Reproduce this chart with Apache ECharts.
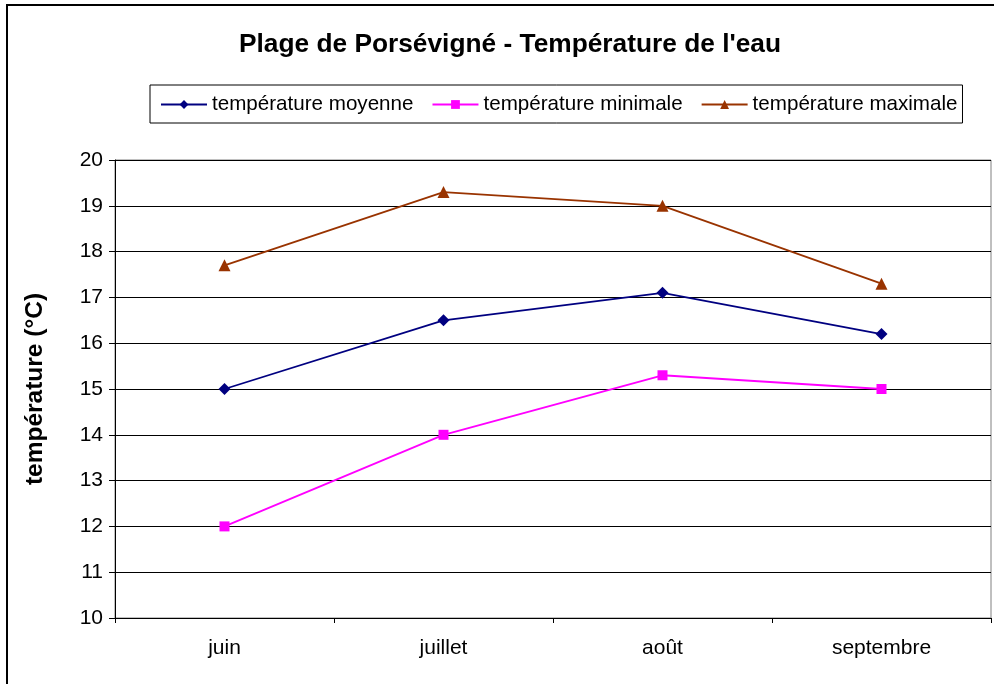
<!DOCTYPE html>
<html>
<head>
<meta charset="utf-8">
<script src="https://cdn.jsdelivr.net/npm/echarts@6/dist/echarts.min.js"></script>
<style>html,body{margin:0;padding:0;background:#fff}#c{width:994px;height:684px}</style>
</head>
<body>
<div id="c"></div>
<script>
var categories = ['juin', 'juillet', 'août', 'septembre'];
var tempMoyenne = [15.0, 16.5, 17.1, 16.2];
var tempMinimale = [12.0, 14.0, 15.3, 15.0];
var tempMaximale = [17.7, 19.3, 19.0, 17.3];
var yTicks = [10, 11, 12, 13, 14, 15, 16, 17, 18, 19, 20];

var font = 'Arial, "Liberation Sans", sans-serif';
var chart = echarts.init(document.getElementById('c'));
chart.setOption({
  animation: false,
  backgroundColor: '#fff',
  textStyle: { fontFamily: font },
  title: {
    text: 'Plage de Porsévigné - Température de l\'eau',
    left: 505, top: 27, textAlign: 'center',
    textStyle: { fontFamily: font, fontSize: 26.3, fontWeight: 'bold', color: '#000' }
  },
  graphic: [{
    type: 'rect', shape: { x: 7, y: 5, width: 1000, height: 700 },
    style: { fill: 'none', stroke: '#000', lineWidth: 2 }, silent: true, z: 100
  }],
  legend: {
    left: 150, top: 85,
    padding: [9, 5, 8, 10],
    borderColor: '#000', borderWidth: 1,
    itemWidth: 46, itemHeight: 11, itemGap: 18,
    textStyle: { fontFamily: font, fontSize: 20.6, color: '#000' },
    data: ['température moyenne', 'température minimale', 'température maximale']
  },
  grid: { left: 115, right: 3, top: 160, bottom: 66, show: true, borderColor: '#808080', borderWidth: 1 },
  xAxis: {
    type: 'category', data: categories, boundaryGap: true,
    axisLine: { lineStyle: { color: '#000', width: 1 } },
    axisTick: { show: true, length: 5, lineStyle: { color: '#000' } },
    axisLabel: { fontFamily: font, fontSize: 21, color: '#000', margin: 20 }
  },
  yAxis: {
    type: 'value', min: yTicks[0], max: yTicks[yTicks.length - 1], interval: 1,
    name: 'température (°C)', nameLocation: 'middle', nameGap: 67, nameRotate: 90,
    nameTextStyle: { fontFamily: font, fontSize: 24.5, fontWeight: 'bold', color: '#000' },
    axisLine: { show: true, lineStyle: { color: '#000', width: 1 } },
    axisTick: { show: true, length: 6, lineStyle: { color: '#000' } },
    axisLabel: { fontFamily: font, fontSize: 21, color: '#000', margin: 12 },
    splitLine: { show: true, lineStyle: { color: '#000', width: 1 } }
  },
  series: [
    {
      name: 'température moyenne', type: 'line', data: tempMoyenne,
      symbol: 'diamond', symbolSize: 12,
      lineStyle: { color: '#000080', width: 1.8 }, itemStyle: { color: '#000080' }
    },
    {
      name: 'température minimale', type: 'line', data: tempMinimale,
      symbol: 'rect', symbolSize: 10,
      lineStyle: { color: '#ff00ff', width: 1.8 }, itemStyle: { color: '#ff00ff' }
    },
    {
      name: 'température maximale', type: 'line', data: tempMaximale,
      symbol: 'triangle', symbolSize: 12,
      lineStyle: { color: '#993300', width: 1.8 }, itemStyle: { color: '#993300' }
    }
  ]
});
</script>
</body>
</html>
